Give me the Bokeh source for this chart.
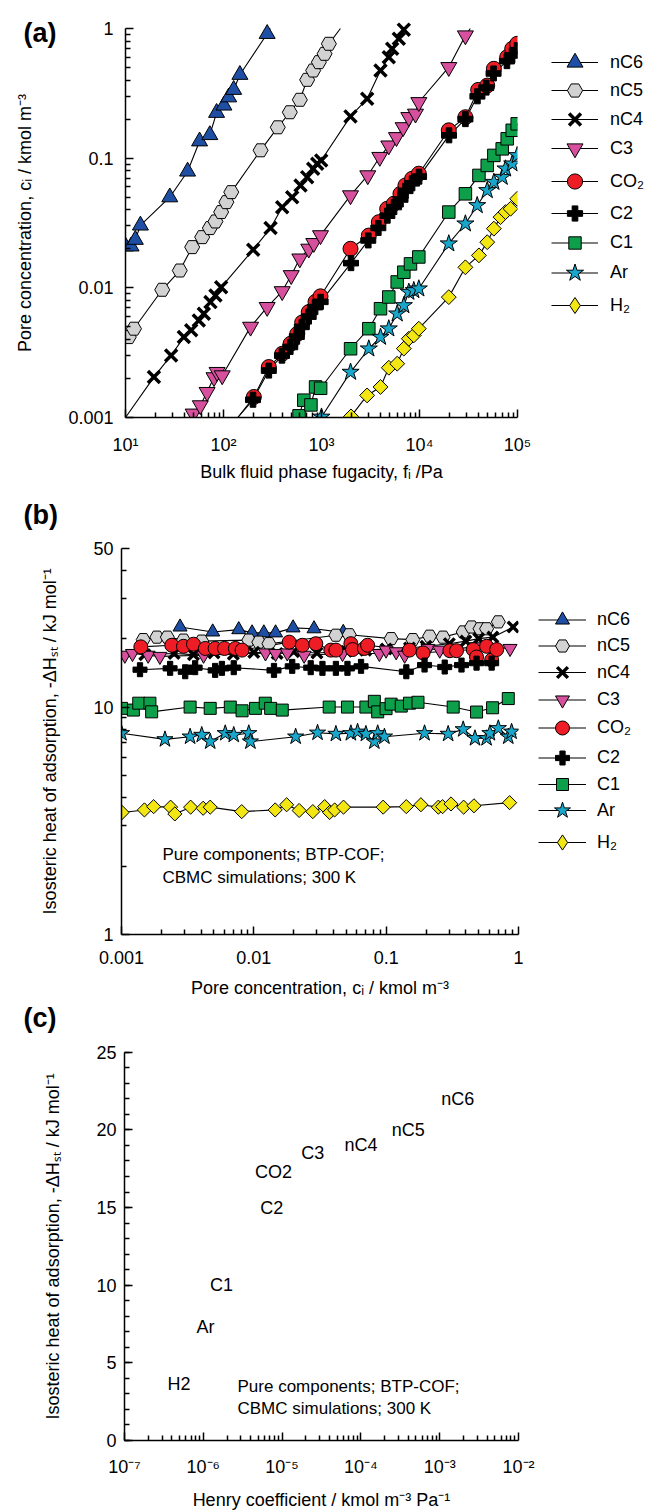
import numpy as np
from bokeh.plotting import figure
from bokeh.layouts import column, row
from bokeh.models import (FixedTicker, CustomJSTickFormatter, Legend, LegendItem, Label,
                          SingleIntervalTicker)
from bokeh.core.properties import value
from bokeh.embed import file_html
from bokeh.resources import INLINE

FONT = "Liberation Sans"

# ---------------- species / styles ----------------
species = ["nC6", "nC5", "nC4", "C3", "CO2", "C2", "C1", "Ar", "H2"]
legend_labels = ["nC6", "nC5", "nC4", "C3", "CO\u2082", "C2", "C1", "Ar", "H\u2082"]
fill_colors = {"nC6": "#1f4fa5", "nC5": "#d2d2d2", "nC4": "black", "C3": "#d6509e",
               "CO2": "#ee1c25", "C2": "black", "C1": "#0e9f4b", "Ar": "#19a6cb", "H2": "#f2e712"}
marker_types = {"nC6": "triangle", "nC5": "hex", "nC4": "x", "C3": "inverted_triangle",
                "CO2": "circle", "C2": "plus", "C1": "square", "Ar": "star", "H2": "square"}
legend_marker_types = dict(marker_types, H2="diamond")
marker_angle = {"H2": np.pi / 4}
size_a = {"nC6": 16, "nC5": 15, "nC4": 17, "C3": 16, "CO2": 15, "C2": 15, "C1": 12.5, "Ar": 18, "H2": 10.5}
size_b = {"nC6": 14, "nC5": 14, "nC4": 15, "C3": 14, "CO2": 14, "C2": 14, "C1": 12, "Ar": 17, "H2": 10}
legend_size_a = dict(size_a, H2=16)
legend_size_b = dict(size_b, H2=15)

# ---------------- panel (a): pore concentration vs fugacity ----------------
nC6_f = [10, 11.4, 12.6, 14.2, 28.3, 43, 57, 72.5, 85, 101, 113, 127, 147, 279]
nC6_c = [0.0209, 0.0209, 0.0235, 0.0303, 0.050, 0.079, 0.135, 0.151, 0.224, 0.255, 0.295, 0.337, 0.44, 0.91]
nC5_f = [10.8, 12.2, 23.7, 35.8, 47.9, 60.6, 72.6, 82.8, 94.6, 107, 120, 239, 358, 475, 601, 714, 822, 940, 1074, 1189]
nC5_c = [0.00417, 0.00484, 0.00966, 0.0136, 0.0206, 0.0246, 0.0289, 0.0325, 0.0384, 0.0458, 0.0547,
         0.115, 0.173, 0.226, 0.282, 0.402, 0.474, 0.55, 0.638, 0.762]
nC4_f = [19.5, 29.2, 39.4, 46.8, 56, 63, 73.6, 82.8, 94.6, 201, 302, 397, 502, 611, 714, 822, 904, 993,
         1977, 2924, 4000, 4860, 5260, 6150, 6918]
nC4_c = [0.00205, 0.00301, 0.00417, 0.0047, 0.0056, 0.00631, 0.00776, 0.00873, 0.0101, 0.0197, 0.0289,
         0.0419, 0.050, 0.0616, 0.0714, 0.0828, 0.0905, 0.096, 0.21, 0.287, 0.474, 0.601, 0.697, 0.833, 0.98]
C3_f = [49, 58, 68, 80, 86, 97, 189, 279, 397, 491, 601, 741, 834, 977, 1977, 2966, 3935, 4860, 5820,
        6810, 7780, 9100, 9840, 19900, 29400]
C3_c = [0.00107, 0.00124, 0.00157, 0.00204, 0.00224, 0.00211, 0.0050, 0.0071, 0.0094, 0.0125, 0.0168,
        0.0200, 0.0221, 0.0254, 0.0516, 0.0736, 0.102, 0.125, 0.145, 0.173, 0.207, 0.22, 0.27, 0.503, 0.883]
CO2_f = [204, 290, 397, 483, 565, 635, 741, 869, 977, 1977, 3040, 3845, 4680, 5470, 6390, 7190, 8410,
         9840, 19900, 29400, 39700, 49100, 57400, 78500, 88300, 99300]
CO2_c = [0.00144, 0.00245, 0.0031, 0.0037, 0.0044, 0.0054, 0.0065, 0.0078, 0.0086, 0.0200, 0.0253,
         0.0321, 0.0407, 0.0445, 0.0531, 0.0616, 0.0694, 0.0759, 0.164, 0.207, 0.336, 0.363, 0.489,
         0.601, 0.697, 0.762]
C2_f = [200, 290, 395, 480, 560, 630, 740, 860, 980, 2000, 3000, 3800, 4700, 5500, 6400, 7200, 8400,
        9900, 20000, 29400, 39000, 48000, 57000, 78000, 88000, 99000]
C2_c = [0.00137, 0.0023, 0.0030, 0.0035, 0.0042, 0.0050, 0.0060, 0.0071, 0.0078, 0.0155, 0.0232, 0.029,
        0.036, 0.042, 0.048, 0.056, 0.064, 0.072, 0.15, 0.20, 0.30, 0.35, 0.45, 0.56, 0.62, 0.68]
C1_f = [590, 660, 780, 870, 980, 1980, 3040, 4000, 4860, 5920, 6920, 8090, 9840, 19900, 29400, 40400,
        49100, 57400, 69800, 78500, 88300, 99300]
C1_c = [0.00103, 0.00136, 0.00125, 0.00172, 0.00168, 0.00339, 0.00484, 0.0069, 0.0085, 0.0111, 0.0132,
        0.0153, 0.0173, 0.0384, 0.0531, 0.0736, 0.0879, 0.105, 0.118, 0.141, 0.164, 0.184]
Ar_f = [1000, 1980, 3040, 4000, 4860, 5920, 6920, 7780, 8750, 9840, 19900, 29400, 38800, 49100, 57400,
        69800, 75500, 88300, 99300]
Ar_c = [0.00101, 0.00224, 0.00339, 0.00417, 0.00484, 0.00631, 0.00731, 0.00927, 0.00955, 0.00984,
        0.0219, 0.0312, 0.0432, 0.0564, 0.0653, 0.0714, 0.0828, 0.0905, 0.105]
H2_f = [2000, 2920, 4000, 4860, 5920, 6920, 7780, 8750, 9840, 19900, 29400, 40400, 49100, 57400, 67100,
        75500, 84900, 99300]
H2_c = [0.00102, 0.00148, 0.00172, 0.00242, 0.0026, 0.0034, 0.00405, 0.0043, 0.00484, 0.00848, 0.0144,
        0.0178, 0.0225, 0.0286, 0.0351, 0.0384, 0.0407, 0.0486]
# where the drawn curves run on beyond the outermost markers (up to the axis ends)
line_lo = {"nC4": (10, 0.001), "CO2": (140, 0.001), "C2": (140, 0.001)}
line_hi = {"nC6": (300, 1.0), "nC5": (1560, 1.0), "nC4": (7100, 1.0), "C3": (33000, 1.0)}

data_a = {"nC6": (nC6_f, nC6_c), "nC5": (nC5_f, nC5_c), "nC4": (nC4_f, nC4_c), "C3": (C3_f, C3_c),
          "CO2": (CO2_f, CO2_c), "C2": (C2_f, C2_c), "C1": (C1_f, C1_c), "Ar": (Ar_f, Ar_c),
          "H2": (H2_f, H2_c)}

# ---------------- panel (b): isosteric heat vs pore concentration ----------------
nC6_cb = [0.00277, 0.00489, 0.00769, 0.0097, 0.0119, 0.0146, 0.0198, 0.0285, 0.0474]
nC6_qb = [22.5, 21.4, 21.9, 21.2, 21.2, 21.2, 22.3, 22.1, 21.3]
nC5_cb = [0.00146, 0.00185, 0.00222, 0.00294, 0.00404, 0.00916, 0.0109, 0.013, 0.0417, 0.0526, 0.109,
          0.159, 0.213, 0.269, 0.382, 0.442, 0.512, 0.574, 0.704]
nC5_qb = [19.8, 20.3, 20.3, 19.7, 19.5, 19.7, 19.3, 19.0, 20.7, 20.8, 20.0, 19.8, 20.5, 20.3, 21.4, 22.5,
          22.1, 22.1, 23.7]
nC4_cb = [0.0015, 0.0025, 0.0035, 0.005, 0.007, 0.01, 0.015, 0.02, 0.03, 0.05, 0.07, 0.1, 0.15, 0.2, 0.3,
          0.4, 0.5, 0.64, 0.91]
nC4_qb = [17.0, 17.2, 17.0, 17.3, 17.1, 17.4, 17.2, 17.5, 17.3, 17.6, 17.8, 18.0, 18.2, 18.5, 19.0, 19.5,
          20.0, 20.3, 22.5]
C3_cb = [0.00106, 0.00121, 0.00159, 0.00195, 0.00417, 0.01225, 0.0146, 0.0179, 0.024, 0.0468, 0.0889,
         0.0998, 0.119, 0.138, 0.207, 0.254, 0.482, 0.863]
C3_qb = [16.9, 17.2, 16.9, 16.7, 16.9, 17.3, 17.2, 17.3, 16.9, 17.2, 17.2, 17.8, 17.5, 16.9, 18.1, 17.8,
         18.4, 18.1]
CO2_cb = [0.0014, 0.0024, 0.00294, 0.0035, 0.0043, 0.0051, 0.006, 0.00725, 0.00815, 0.0185, 0.0233,
          0.0294, 0.0382, 0.0417, 0.0541, 0.0557, 0.0684, 0.0724, 0.150, 0.19, 0.303, 0.34, 0.455, 0.482,
          0.574, 0.627, 0.684]
CO2_qb = [18.4, 18.7, 18.5, 18.9, 18.1, 18.1, 18.1, 18.1, 17.8, 19.3, 18.7, 19.0, 17.8, 17.8, 19.0, 17.9,
          18.1, 18.7, 17.8, 17.3, 17.7, 17.7, 17.9, 16.6, 18.5, 16.1, 17.9]
C2_cb = [0.00138, 0.00233, 0.00303, 0.0036, 0.0051, 0.00574, 0.00705, 0.0142, 0.0195, 0.0269, 0.033,
         0.0417, 0.051, 0.0646, 0.142, 0.195, 0.277, 0.371, 0.482, 0.627]
C2_qb = [14.6, 14.8, 14.3, 14.9, 14.5, 14.8, 14.9, 14.5, 15.1, 14.9, 14.8, 14.8, 14.8, 15.1, 14.3, 15.3,
         15.0, 15.3, 15.6, 15.6]
C1_cb = [0.001, 0.00123, 0.00135, 0.00164, 0.00169, 0.0033, 0.00468, 0.00664, 0.00815, 0.0103, 0.0122,
         0.0134, 0.0164, 0.0371, 0.051, 0.0703, 0.0814, 0.0863, 0.0998, 0.109, 0.130, 0.150, 0.174, 0.321,
         0.482, 0.637, 0.837]
C1_qb = [9.87, 9.70, 10.4, 10.4, 9.53, 10.0, 9.87, 10.0, 9.63, 9.87, 10.4, 9.87, 9.70, 10.0, 10.0, 10.0,
         10.6, 9.53, 9.84, 10.3, 10.1, 10.4, 10.5, 10.0, 9.51, 9.93, 10.9]
Ar_cb = [0.001, 0.00213, 0.0033, 0.00404, 0.00468, 0.00608, 0.00705, 0.00916, 0.00942, 0.0207, 0.0303,
         0.0417, 0.0541, 0.0608, 0.0703, 0.0814, 0.0863, 0.097, 0.195, 0.294, 0.382, 0.469, 0.574, 0.608,
         0.704, 0.837, 0.887]
Ar_qb = [7.67, 7.21, 7.41, 7.54, 7.05, 7.67, 7.54, 7.67, 7.05, 7.41, 7.71, 7.62, 7.67, 7.79, 7.62, 7.05,
         7.67, 7.41, 7.67, 7.62, 7.98, 7.29, 7.29, 7.67, 8.07, 7.41, 7.79]
H2_cb = [0.00101, 0.00149, 0.00175, 0.00235, 0.00253, 0.00333, 0.00414, 0.00468, 0.0081, 0.0145, 0.0177,
         0.022, 0.0279, 0.0343, 0.0374, 0.0408, 0.0476, 0.0949, 0.142, 0.183, 0.248, 0.267, 0.309, 0.385,
         0.461, 0.857]
H2_qb = [3.44, 3.53, 3.65, 3.63, 3.39, 3.63, 3.59, 3.63, 3.47, 3.53, 3.72, 3.51, 3.47, 3.65, 3.44, 3.53,
         3.63, 3.63, 3.65, 3.72, 3.63, 3.65, 3.75, 3.63, 3.68, 3.80]

data_b = {"nC6": (nC6_cb, nC6_qb), "nC5": (nC5_cb, nC5_qb), "nC4": (nC4_cb, nC4_qb), "C3": (C3_cb, C3_qb),
          "CO2": (CO2_cb, CO2_qb), "C2": (C2_cb, C2_qb), "C1": (C1_cb, C1_qb), "Ar": (Ar_cb, Ar_qb),
          "H2": (H2_cb, H2_qb)}

# ---------------- panel (c): isosteric heat vs Henry coefficient ----------------
henry_names = ["nC6", "nC5", "nC4", "C3", "CO2", "C2", "C1", "Ar", "H2"]
henry_k = [1.7e-3, 4.0e-4, 1.0e-4, 2.45e-5, 7.8e-6, 7.4e-6, 1.7e-6, 1.07e-6, 4.9e-7]
henry_q = [22.0, 20.0, 19.0, 18.5, 17.3, 15.0, 10.0, 7.3, 3.65]

# ---------------- ticks / axis extents ----------------
fug_ticks = [10, 100, 1000, 1e4, 1e5]
conc_ticks = [0.001, 0.01, 0.1, 1]
heat_ticks_b = [1, 10, 50]
henry_ticks = [1e-7, 1e-6, 1e-5, 1e-4, 1e-3, 1e-2]
fug_axis = (10, 1e5)
conc_axis = (1e-3, 1)
heat_axis_b = (1, 50)
henry_axis = (1e-7, 1e-2)
heat_axis_c = (0, 25)

# ---------------- text ----------------
ylab_a = "Pore concentration, c\u1d62 / kmol m\u207b\u00b3"
xlab_a = "Bulk fluid phase fugacity, f\u1d62 /Pa"
ylab_b = "Isosteric heat of adsorption, -\u0394H\u209b\u209c / kJ mol\u207b\u00b9"
xlab_b = "Pore concentration, c\u1d62 / kmol m\u207b\u00b3"
xlab_c = "Henry coefficient / kmol m\u207b\u00b3 Pa\u207b\u00b9"
note_1 = "Pure components; BTP-COF;"
note_2 = "CBMC simulations; 300 K"


def minor_log(majors, upper):
    out = []
    for m in majors:
        for k in range(2, 10):
            v = m * k
            if v < upper:
                out.append(v)
    return out


def log_top(lo, hi, axis_px, extra_px):
    """Range end that leaves extra_px of frame above the axis end (log axis)."""
    dec = (np.log10(hi) - np.log10(lo)) / axis_px
    return 10 ** (np.log10(hi) + extra_px * dec)


sup_fmt = CustomJSTickFormatter(code="""
const e = Math.round(Math.log10(tick));
const m = {"-":"\u207b","0":"\u2070","1":"\u00b9","2":"\u00b2","3":"\u00b3","4":"\u2074",
           "5":"\u2075","6":"\u2076","7":"\u2077","8":"\u2078","9":"\u2079"};
return "10" + String(e).split("").map(c => m[c]).join("");
""")
dec_fmt = CustomJSTickFormatter(code="""
const e = Math.floor(Math.log10(tick) + 1e-9);
return e >= 0 ? String(Math.round(tick)) : tick.toFixed(-e);
""")


def style(p, xlab_standoff, xtick_standoff, ytick_standoff):
    p.grid.visible = False
    p.outline_line_color = None
    p.background_fill_color = "white"
    p.border_fill_color = "white"
    for ax in (p.xaxis[0], p.yaxis[0]):
        ax.axis_line_width = 1.5
        ax.axis_line_color = "black"
        ax.major_tick_in = 8
        ax.major_tick_out = 0
        ax.minor_tick_in = 5
        ax.minor_tick_out = 0
        ax.major_tick_line_width = 1.5
        ax.minor_tick_line_width = 1.5
        ax.major_label_text_font = FONT
        ax.major_label_text_font_size = "18px"
        ax.major_label_text_color = "black"
        ax.axis_label_text_font = FONT
        ax.axis_label_text_font_size = "18px"
        ax.axis_label_text_font_style = "normal"
        ax.axis_label_text_color = "black"
    p.xaxis[0].axis_label_standoff = xlab_standoff
    p.xaxis[0].major_label_standoff = xtick_standoff
    p.yaxis[0].major_label_standoff = ytick_standoff


def draw_series(p, data, sizes, lo=None, hi=None):
    for s in species:
        x, y = data[s]
        order = np.argsort(x)
        lx = [x[i] for i in order]
        ly = [y[i] for i in order]
        if lo and s in lo:
            lx = [lo[s][0]] + lx
            ly = [lo[s][1]] + ly
        if hi and s in hi:
            lx = lx + [hi[s][0]]
            ly = ly + [hi[s][1]]
        p.line(lx, ly, line_color="black", line_width=1.1)
    for s in species:
        x, y = data[s]
        p.scatter(x, y, marker=marker_types[s], size=sizes[s], fill_color=fill_colors[s],
                  line_color="black", line_width=3.5 if s == "nC4" else 1.0, angle=marker_angle.get(s, 0))


def strip(width, height, frame_bottom):
    """Blank side figure; in a row its frame lines up with the main plot's frame,
    so its y range is set to run in pixels downward from the frame top."""
    s = figure(width=width, height=height, x_range=(0, width), y_range=(frame_bottom, 0),
               min_border_left=0, min_border_right=0, min_border_top=0,
               min_border_bottom=height - frame_bottom,
               x_axis_location=None, y_axis_location=None, toolbar_location=None,
               output_backend="svg", title=None)
    s.outline_line_color = None
    s.background_fill_color = "white"
    s.border_fill_color = "white"
    s.grid.visible = False
    return s


def side_labels(s, tag, tag_y, ylab, ylab_x, ylab_y):
    s.add_layout(Label(x=23, y=tag_y, text=tag, text_font=FONT, text_font_size="27px",
                       text_font_style="bold", text_align="left", text_baseline="middle",
                       text_color="black"))
    s.add_layout(Label(x=ylab_x, y=ylab_y, text=ylab, angle=np.pi / 2, text_font=FONT,
                       text_font_size="18px", text_align="center", text_baseline="middle",
                       text_color="black"))


def legend_strip(s, sizes, row_y, vx, gw, standoff, frame_bottom):
    for sp, lab, yc in zip(species, legend_labels, row_y):
        lr = s.line([np.nan], [np.nan], line_color="black", line_width=1.1)
        sr = s.scatter([np.nan], [np.nan], marker=legend_marker_types[sp], size=sizes[sp],
                       fill_color=fill_colors[sp], line_color="black",
                       line_width=3.5 if sp == "nC4" else 1.0)
        gh = int(round(sizes[sp] / 0.4))
        leg = Legend(items=[LegendItem(label=value(lab), renderers=[lr, sr])],
                     location=(vx, frame_bottom - yc - gh / 2), glyph_width=gw, glyph_height=gh,
                     label_height=20, spacing=0, padding=0, margin=0, label_standoff=standoff,
                     label_text_font=FONT, label_text_font_size="18px", label_text_color="black",
                     border_line_color=None, background_fill_alpha=0)
        s.add_layout(leg)


def note(p, txt, x, y):
    p.add_layout(Label(x=x, y=y, x_units="screen", y_units="screen", text=txt, text_font=FONT,
                       text_font_size="17px", text_baseline="middle", text_align="left",
                       text_color="black"))


LW = 64  # left strip width

# ================= (a) =================
Ha, Ba = 490, 417          # figure height, frame bottom
pa = figure(width=469, height=Ha, x_axis_type="log", y_axis_type="log", x_range=fug_axis,
            y_range=(conc_axis[0], log_top(*conc_axis, Ba - 28, 28)),
            min_border_left=125 - LW, min_border_right=16, min_border_top=0,
            min_border_bottom=Ha - Ba, toolbar_location=None, output_backend="svg", title=None)
style(pa, 4, 17, 12)
pa.xaxis[0].ticker = FixedTicker(ticks=fug_ticks, minor_ticks=minor_log(fug_ticks, 1.01e5))
pa.yaxis[0].ticker = FixedTicker(ticks=conc_ticks, minor_ticks=minor_log(conc_ticks, 1.01))
pa.yaxis[0].bounds = conc_axis
pa.xaxis[0].formatter = sup_fmt
pa.yaxis[0].formatter = dec_fmt
pa.xaxis[0].axis_label = xlab_a
draw_series(pa, data_a, size_a, line_lo, line_hi)

la = strip(LW, Ha, Ba)
side_labels(la, "(a)", 32, ylab_a, 24, 222.5)
ra = strip(650 - LW - 469, Ha, Ba)
legend_strip(ra, legend_size_a, [62, 90, 119, 148, 181, 213, 242, 272, 305], 18, 47, 12, Ba)

# ================= (b) =================
Hb, Bb = 510, 447
pb = figure(width=470, height=Hb, x_axis_type="log", y_axis_type="log", x_range=conc_axis,
            y_range=(heat_axis_b[0], log_top(*heat_axis_b, Bb - 58, 58)),
            min_border_left=121 - LW, min_border_right=16, min_border_top=0,
            min_border_bottom=Hb - Bb, toolbar_location=None, output_backend="svg", title=None)
style(pb, 11, 16, 8)
pb.xaxis[0].ticker = FixedTicker(ticks=conc_ticks, minor_ticks=minor_log(conc_ticks, 1.01))
pb.yaxis[0].ticker = FixedTicker(ticks=heat_ticks_b, minor_ticks=minor_log([1, 10], 49))
pb.yaxis[0].bounds = heat_axis_b
pb.xaxis[0].formatter = dec_fmt
pb.yaxis[0].formatter = dec_fmt
pb.xaxis[0].axis_label = xlab_b
draw_series(pb, data_b, size_b)
note(pb, note_1, 41, 80)
note(pb, note_2, 41, 57)

lb = strip(LW, Hb, Bb)
side_labels(lb, "(b)", 25, ylab_b, 49, 252.5)
rb = strip(650 - LW - 470, Hb, Bb)
legend_strip(rb, legend_size_b, [132, 158, 185, 212, 240, 270, 297, 323, 355], 4, 48, 11, Bb)

# ================= (c) =================
Hc, Bc = 512, 442
c_top = heat_axis_c[1] + 52 * (heat_axis_c[1] - heat_axis_c[0]) / (Bc - 52)
pc = figure(width=650 - LW, height=Hc, x_axis_type="log", x_range=henry_axis,
            y_range=(heat_axis_c[0], c_top),
            min_border_left=124 - LW, min_border_right=132, min_border_top=0,
            min_border_bottom=Hc - Bc, toolbar_location=None, output_backend="svg", title=None)
style(pc, 10, 16, 8)
pc.xaxis[0].ticker = FixedTicker(ticks=henry_ticks, minor_ticks=minor_log(henry_ticks, 1.01e-2))
pc.xaxis[0].formatter = sup_fmt
pc.yaxis[0].ticker = SingleIntervalTicker(interval=5, num_minor_ticks=5)
pc.yaxis[0].bounds = heat_axis_c
pc.xaxis[0].axis_label = xlab_c
pc.text(x=henry_k, y=henry_q, text=henry_names, text_align="center", text_baseline="middle",
        text_font=value(FONT), text_font_size="18px", text_color="black")
note(pc, note_1, 113, 54)
note(pc, note_2, 113, 32)

lc = strip(LW, Hc, Bc)
side_labels(lc, "(c)", 18, ylab_b, 52, 247)

layout = column(row(la, pa, ra, spacing=0), row(lb, pb, rb, spacing=0), row(lc, pc, spacing=0), spacing=0)
open("out.html", "w").write(file_html(layout, INLINE))
